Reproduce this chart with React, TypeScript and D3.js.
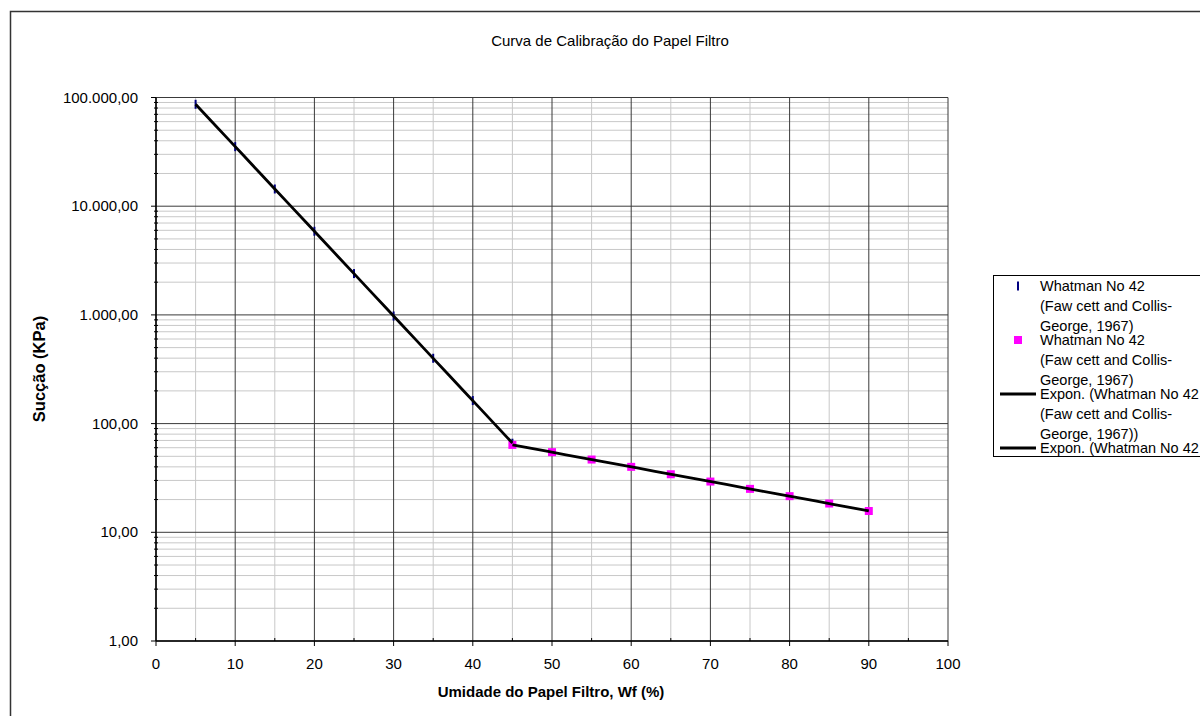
import React from "react";
import * as d3 from "d3";

// Filter paper calibration data: water content (%) vs suction (kPa)
const wetWater = [5, 10, 15, 20, 25, 30, 35, 40, 45];
const wetSuction = [86600, 35300, 14400, 5880, 2400, 977, 399, 163, 66];
const dryWater = [45, 50, 55, 60, 65, 70, 75, 80, 85, 90];
const drySuction = [63.7, 54.6, 46.7, 40.0, 34.2, 29.3, 25.1, 21.5, 18.4, 15.7];

const xTicks = [0, 10, 20, 30, 40, 50, 60, 70, 80, 90, 100];
const yTicks = [1, 10, 100, 1000, 10000, 100000];
const yTickLabels = ["1,00", "10,00", "100,00", "1.000,00", "10.000,00", "100.000,00"];

const legendEntries = [
  { kind: "dash", lines: ["Whatman No 42", "(Faw cett and Collis-", "George, 1967)"] },
  { kind: "square", lines: ["Whatman No 42", "(Faw cett and Collis-", "George, 1967)"] },
  { kind: "line", lines: ["Expon. (Whatman No 42", "(Faw cett and Collis-", "George, 1967))"] },
  { kind: "line", lines: ["Expon. (Whatman No 42", "(Faw cett and Collis-", "George, 1967))"] },
];

const W = 1200;
const H = 716;
const FONT = "'Liberation Sans', Arial, sans-serif";

// Exponential (log-linear) least-squares trend
function expTrend(xs: number[], ys: number[]) {
  const ls = ys.map((v) => Math.log(v));
  const n = xs.length;
  const mx = d3.mean(xs)!;
  const ml = d3.mean(ls)!;
  let sxy = 0;
  let sxx = 0;
  for (let i = 0; i < n; i++) {
    sxy += (xs[i] - mx) * (ls[i] - ml);
    sxx += (xs[i] - mx) * (xs[i] - mx);
  }
  const b = sxy / sxx;
  const a = ml - b * mx;
  const [x0, x1] = d3.extent(xs) as [number, number];
  return d3.range(0, 21).map((i) => {
    const x = x0 + ((x1 - x0) * i) / 20;
    return [x, Math.exp(a + b * x)] as [number, number];
  });
}

export default function App() {
  const left = 156;
  const right = 948;
  const top = 97.5;
  const bottom = 641;

  const x = d3.scaleLinear().domain([0, 100]).range([left, right]);
  const y = d3.scaleLog().domain([1, 100000]).range([bottom, top]);

  const minorX = d3.range(5, 100, 10);
  const minorY: number[] = [];
  for (let dec = 1; dec < 100000; dec *= 10) {
    for (let k = 2; k <= 9; k++) minorY.push(dec * k);
  }

  const line = d3
    .line<[number, number]>()
    .x((d) => x(d[0]))
    .y((d) => y(d[1]));

  const trend1 = expTrend(wetWater, wetSuction);
  const trend2 = expTrend(dryWater, drySuction);

  const legX = 993;
  const legY = 275;
  const legH = 182;
  const entryStart = 286;
  const entryStep = 54;
  const lineStep = 20;

  return (
    <svg
      width={W}
      height={H}
      style={{ position: "absolute", left: 0, top: 0, background: "#fff" }}
      fontFamily={FONT}
    >
      <rect x={0} y={0} width={W} height={H} fill="#fff" />
      {/* chart frame */}
      <rect x={10.5} y={11.5} width={1250} height={760} fill="none" stroke="#333" strokeWidth={1.5} />

      <text x={610} y={45.5} textAnchor="middle" fontSize={15} fill="#000">
        Curva de Calibração do Papel Filtro
      </text>

      {/* minor grid */}
      {minorX.map((v) => (
        <line key={"mx" + v} x1={x(v)} x2={x(v)} y1={top} y2={bottom} stroke="#c8c8c8" strokeWidth={1} />
      ))}
      {minorY.map((v) => (
        <line key={"my" + v} x1={left} x2={right} y1={y(v)} y2={y(v)} stroke="#c8c8c8" strokeWidth={1} />
      ))}
      {/* major grid */}
      {xTicks.map((v) => (
        <line key={"gx" + v} x1={x(v)} x2={x(v)} y1={top} y2={bottom} stroke="#3a3a3a" strokeWidth={1} />
      ))}
      {yTicks.map((v) => (
        <line key={"gy" + v} x1={left} x2={right} y1={y(v)} y2={y(v)} stroke="#3a3a3a" strokeWidth={1} />
      ))}

      {/* axes */}
      <line x1={left} x2={left} y1={top} y2={bottom} stroke="#000" strokeWidth={1.5} />
      <line x1={left} x2={right} y1={bottom} y2={bottom} stroke="#000" strokeWidth={1.5} />
      {yTicks.map((v) => (
        <line key={"ty" + v} x1={left - 5} x2={left} y1={y(v)} y2={y(v)} stroke="#000" strokeWidth={1} />
      ))}
      {minorY.map((v) => (
        <line key={"tmy" + v} x1={left - 2} x2={left + 2} y1={y(v)} y2={y(v)} stroke="#000" strokeWidth={1} />
      ))}
      {xTicks.map((v) => (
        <line key={"tx" + v} x1={x(v)} x2={x(v)} y1={bottom} y2={bottom + 5} stroke="#000" strokeWidth={1} />
      ))}
      {minorX.map((v) => (
        <line key={"tmx" + v} x1={x(v)} x2={x(v)} y1={bottom - 3} y2={bottom} stroke="#000" strokeWidth={1} />
      ))}

      {yTicks.map((v, i) => (
        <text key={"ly" + v} x={138} y={y(v) + 5} textAnchor="end" fontSize={15} fill="#000">
          {yTickLabels[i]}
        </text>
      ))}
      {xTicks.map((v) => (
        <text key={"lx" + v} x={x(v)} y={668.5} textAnchor="middle" fontSize={15} fill="#000">
          {v}
        </text>
      ))}

      <text x={551} y={697} textAnchor="middle" fontSize={15} fontWeight="bold" fill="#000">
        Umidade do Papel Filtro, Wf (%)
      </text>
      <text
        transform={`translate(45, 369) rotate(-90)`}
        textAnchor="middle"
        fontSize={16.5}
        fontWeight="bold"
        fill="#000"
      >
        Sucção (KPa)
      </text>

      {/* data markers */}
      {wetWater.map((w, i) => (
        <rect
          key={"p1" + w}
          x={x(w) - 1}
          y={y(wetSuction[i]) - 4.5}
          width={2}
          height={9}
          fill="#000080"
        />
      ))}
      {dryWater.map((w, i) => (
        <rect
          key={"p2" + w}
          x={x(w) - 4}
          y={y(drySuction[i]) - 4}
          width={8}
          height={8}
          fill="#ff00ff"
        />
      ))}

      {/* exponential trends */}
      <path d={line(trend1) || ""} fill="none" stroke="#000" strokeWidth={2.8} />
      <path d={line(trend2) || ""} fill="none" stroke="#000" strokeWidth={2.8} />

      {/* legend */}
      <defs>
        <clipPath id="legclip">
          <rect x={legX} y={legY} width={W - legX} height={legH} />
        </clipPath>
      </defs>
      <g clipPath="url(#legclip)">
        <rect x={legX + 0.5} y={legY + 0.5} width={260} height={legH - 1} fill="#fff" stroke="#000" strokeWidth={1} />
        {legendEntries.map((e, i) => {
          const ey = entryStart + i * entryStep;
          return (
            <g key={"le" + i}>
              {e.kind === "dash" && <rect x={1017} y={ey - 4.5} width={2} height={9} fill="#000080" />}
              {e.kind === "square" && <rect x={1014} y={ey - 4} width={8} height={8} fill="#ff00ff" />}
              {e.kind === "line" && (
                <line x1={1000} x2={1036} y1={ey} y2={ey} stroke="#000" strokeWidth={2.8} />
              )}
              {e.lines.map((t, j) => (
                <text key={j} x={1040} y={ey + j * lineStep + 5} fontSize={14.5} fill="#000">
                  {t}
                </text>
              ))}
            </g>
          );
        })}
      </g>
    </svg>
  );
}
